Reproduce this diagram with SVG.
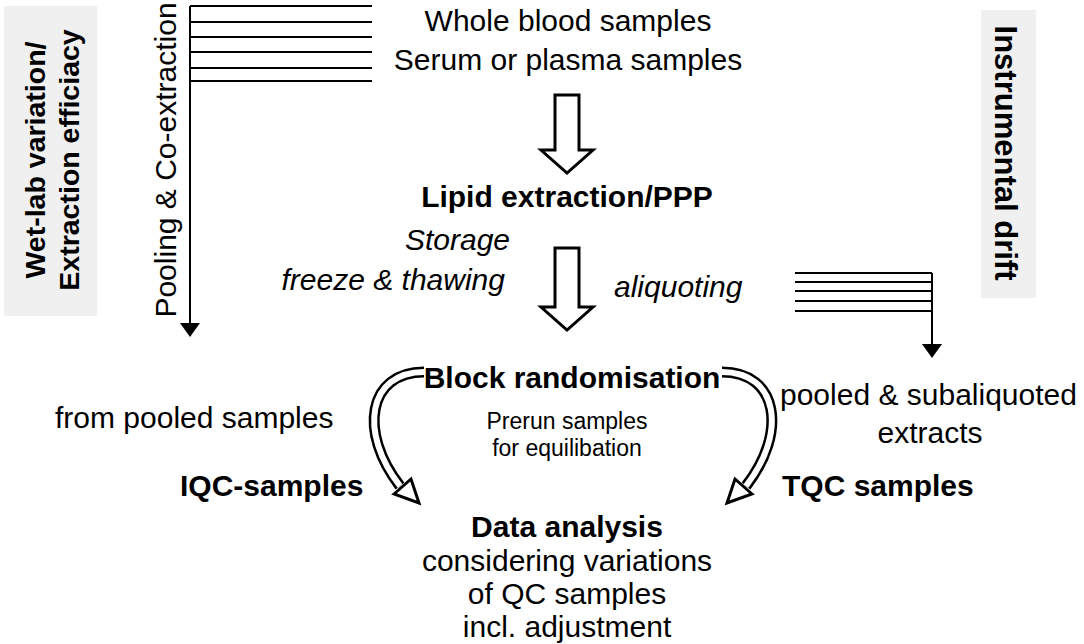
<svg xmlns="http://www.w3.org/2000/svg" width="1084" height="644" viewBox="0 0 1084 644">
<style>
text{font-family:"Liberation Sans",Arial,sans-serif;fill:#000}
.t{font-size:30px}
.b{font-size:30px;font-weight:bold}
.i{font-size:30px;font-style:italic}
.s{font-size:23px}
.box{fill:#f0f0f0}
.ln{stroke:#000;stroke-width:2;fill:none}
.hol{fill:#fff;stroke:#000;stroke-width:3;stroke-linejoin:miter}
.cO{fill:none;stroke:#000;stroke-width:11}
.cI{fill:none;stroke:#fff;stroke-width:6}
</style>
<rect width="1084" height="644" fill="#fff"/>
<g id="wetlab">
<rect class="box" x="4" y="6" width="93" height="310"/>
<text class="b" style="font-size:28.5px" transform="translate(45,160) rotate(-90)" text-anchor="middle">Wet-lab variation/</text>
<text class="b" style="font-size:28.5px" transform="translate(79,160) rotate(-90)" text-anchor="middle">Extraction efficiacy</text>
</g>
<g id="drift">
<rect class="box" x="981" y="10" width="55" height="288"/>
<text class="b" style="font-size:31px" transform="translate(995,153) rotate(90)" text-anchor="middle">Instrumental drift</text>
</g>
<g id="pooling">
<text class="t" transform="translate(176,160) rotate(-90)" text-anchor="middle">Pooling &amp; Co-extraction</text>
</g>
<g id="samples">
<text class="t" x="568" y="31" text-anchor="middle">Whole blood samples</text>
<text class="t" x="568" y="70" text-anchor="middle">Serum or plasma samples</text>
</g>
<g id="lipid"><text class="b" x="567" y="207" text-anchor="middle">Lipid extraction/PPP</text></g>
<g id="storage">
<text class="i" x="510" y="250" text-anchor="end">Storage</text>
<text class="i" x="505" y="290" text-anchor="end">freeze &amp; thawing</text>
</g>
<g id="aliquoting"><text class="i" x="614" y="297">aliquoting</text></g>
<g id="block"><text class="b" x="572" y="388" text-anchor="middle">Block randomisation</text></g>
<g id="prerun">
<text class="s" x="567" y="429" text-anchor="middle">Prerun samples</text>
<text class="s" x="567" y="456" text-anchor="middle">for equilibation</text>
</g>
<g id="iqc">
<text class="t" x="55" y="428">from pooled samples</text>
<text class="b" x="180" y="496">IQC-samples</text>
</g>
<g id="tqc">
<text class="t" x="780" y="405">pooled &amp; subaliquoted</text>
<text class="t" x="930" y="443" text-anchor="middle">extracts</text>
<text class="b" x="782" y="496">TQC samples</text>
</g>
<g id="data">
<text class="b" x="567" y="537" text-anchor="middle">Data analysis</text>
<text class="t" x="567" y="571" text-anchor="middle">considering variations</text>
<text class="t" x="567" y="604" text-anchor="middle">of QC samples</text>
<text class="t" x="567" y="637" text-anchor="middle">incl. adjustment</text>
</g>
<g id="connectors">
<path class="ln" d="M190 6H372M190 22H372M190 37H372M190 52H372M190 68H372M190 81H372M190 6V324"/>
<polygon points="180,323 200,323 190,337" fill="#000"/>
<path class="ln" d="M795 273H932M795 282H932M795 291H932M795 301H932M795 311H932M932 273V345"/>
<polygon points="922,344 942,344 932,358" fill="#000"/>
<polygon class="hol" points="555,95 579,95 579,150 593,150 567,173 541,150 555,150"/>
<polygon class="hol" points="555,248 579,248 579,307 593,307 567,330 541,307 555,307"/>
<path class="cO" d="M424 372C368 372 358 432 400 486"/>
<path class="cI" d="M424 372C368 372 358 432 400 486"/>
<polygon class="hol" points="394,494 411,479 419,503"/>
<path class="cO" d="M722 372C778 372 788 432 746 486"/>
<path class="cI" d="M722 372C778 372 788 432 746 486"/>
<polygon class="hol" points="752,494 735,479 727,503"/>
</g>
</svg>
